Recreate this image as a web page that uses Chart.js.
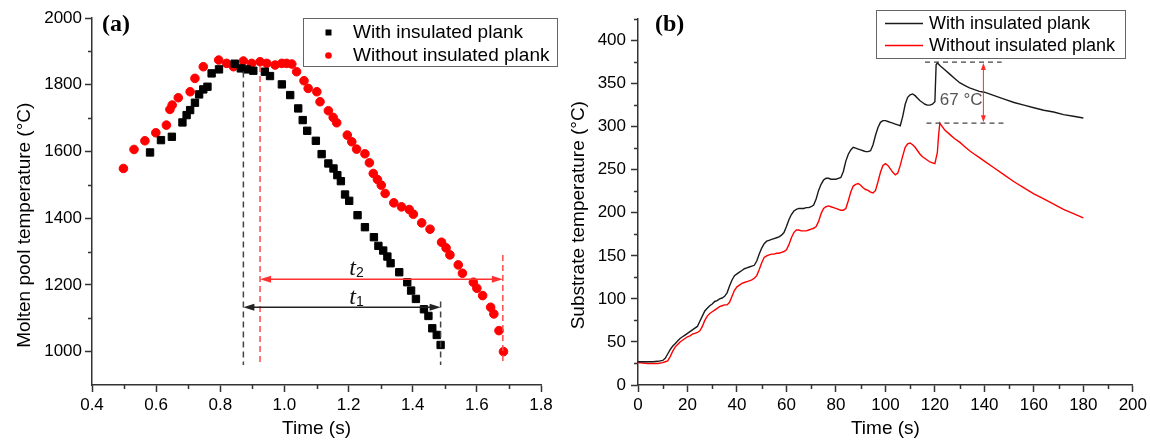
<!DOCTYPE html>
<html><head><meta charset="utf-8">
<script src="https://cdn.jsdelivr.net/npm/chart.js@4.4.1/dist/chart.umd.min.js"></script>
<style>
html,body{margin:0;padding:0;background:#fff;}
#wrap{position:relative;width:1150px;height:442px;overflow:hidden;background:#fff;}
#ca{position:absolute;left:0;top:0;}
#cb{position:absolute;left:566px;top:0;}
</style></head><body>
<div id="wrap">
<canvas id="ca" width="570" height="442"></canvas>
<canvas id="cb" width="584" height="442"></canvas>
</div>
<script>
// ---------------- Panel (a) data: molten pool temperature ----------------
const seriesNames = ['With insulated plank', 'Without insulated plank'];
const poolWithPlank = [
  [0.581,1597],[0.615,1634],[0.649,1644],[0.682,1687],[0.695,1709],[0.706,1724],[0.721,1746],
  [0.734,1771],[0.747,1786],[0.760,1794],[0.773,1834],[0.796,1846],[0.845,1863],[0.864,1849],
  [0.882,1846],[0.903,1842],[0.939,1839],[0.955,1826],[0.992,1801],[1.018,1769],[1.043,1729],
  [1.057,1694],[1.071,1662],[1.098,1632],[1.116,1592],[1.137,1564],[1.153,1549],[1.165,1529],
  [1.176,1511],[1.189,1471],[1.202,1452],[1.228,1409],[1.251,1373],[1.279,1343],[1.293,1317],
  [1.308,1303],[1.321,1285],[1.331,1265],[1.358,1238],[1.383,1208],[1.395,1183],[1.410,1158],
  [1.435,1127],[1.449,1107],[1.461,1070],[1.475,1050],[1.487,1020]
];
const poolWithoutPlank = [
  [0.498,1549],[0.531,1606],[0.565,1632],[0.599,1656],[0.632,1679],[0.643,1726],[0.650,1739],
  [0.669,1761],[0.706,1779],[0.721,1819],[0.747,1854],[0.795,1874],[0.820,1864],[0.841,1854],
  [0.872,1871],[0.898,1864],[0.924,1869],[0.945,1864],[0.971,1859],[0.992,1864],[1.007,1864],
  [1.023,1862],[1.038,1839],[1.061,1812],[1.074,1789],[1.101,1779],[1.111,1749],[1.137,1722],
  [1.152,1702],[1.163,1686],[1.196,1649],[1.210,1629],[1.225,1607],[1.251,1593],[1.265,1566],
  [1.277,1534],[1.290,1516],[1.302,1499],[1.314,1474],[1.341,1446],[1.365,1434],[1.389,1426],
  [1.402,1412],[1.428,1386],[1.454,1367],[1.490,1328],[1.504,1311],[1.516,1290],[1.542,1260],
  [1.555,1235],[1.589,1208],[1.600,1190],[1.618,1168],[1.643,1133],[1.653,1113],[1.669,1063],
  [1.683,1000]
];
const xTicksA = [0.4,0.6,0.8,1.0,1.2,1.4,1.6,1.8];
const xMinorA = [0.5,0.7,0.9,1.1,1.3,1.5,1.7];
const yTicksA = [1000,1200,1400,1600,1800,2000];
const yMinorA = [1100,1300,1500,1700,1900];
// annotation values for (a)
const t1Span = [0.872, 1.487]; const t1Level = 1133;
const t2Span = [0.924, 1.681]; const t2Level = 1217;
const dashTopA = {withStart:1840, withoutStart:1856, withEnd:1150, withoutEnd:1290};
const dashBottomA = 960;
const t1LabelAt = [1.225, 1163]; const t2LabelAt = [1.225, 1251];

// ---------------- Panel (b) data: substrate temperature ----------------
const substrateWithPlank = [
  [0,27],[2,27],[4,27],[6,27],[8,27.5],[10,28.5],[11,31],[12,36],[13,41],[14,45],[15,48],
  [16,51],[17,54],[18,56],[19,58],[20,60],[21,62],[22,64],[23,66],[24,68],[25,74],[26,80],
  [27,86],[28,89],[29,92],[30,94],[31,97],[32,98],[33,100],[34,101],[35,103],[36,107],[37,115],
  [38,122],[39,127],[40,129],[41,131],[42,133],[43,135],[44,136],[45,137],[46,138],[47,139],
  [48,144],[49,152],[50,159],[51,164],[52,167],[53,168],[54,169],[55,170],[56,171],[57,172],
  [58,174],[59,177],[60,184],[61,192],[62,198],[63,202],[64,204],[65,205],[66,205],[67,205],
  [68,206],[69,206],[70,207],[71,209],[72,216],[73,226],[74,233],[75,238],[76,240],[77,240],
  [78,239],[79,239],[80,239],[81,240],[82,241],[83,248],[84,260],[85,268],[86,273],[87,276],
  [88,275],[89,274],[90,273],[91,272],[92,271],[93,271],[94,272],[95,279],[96,290],[97,299],
  [98,305],[99,307],[100,307],[101,306],[102,305],[103,304],[104,303],[105,302],[106,301],
  [107,312],[108,326],[109,334],[110,337],[111,338],[112,336],[113,333],[114,330],[115,328],
  [116,326],[117,325],[118,325],[119,326],[120,329],[120.5,372],[121,374],[122,371],[124,366],
  [126,361],[128,356],[130,351],[132,348],[134,345],[136,343],[138,341],[140,340],[144,336],
  [148,332],[152,328],[156,325],[160,322],[164,319],[168,317],[172,314],[176,312],[180,310]
];
const substrateWithoutPlank = [
  [0,26],[2,25.5],[4,25],[6,25],[8,25],[10,26],[11,27],[12,28],[13,33],[14,39],[15,44],
  [16,47],[17,50],[18,52],[19,54],[20,56],[21,57],[22,59],[23,60],[24,61],[25,63],[26,68],
  [27,75],[28,80],[29,83],[30,85],[31,87],[32,89],[33,91],[34,92],[35,93],[36,93],[37,96],
  [38,103],[39,110],[40,114],[41,116],[42,118],[43,119],[44,120],[45,121],[46,122],[47,124],
  [48,127],[49,134],[50,142],[51,148],[52,150],[53,151],[54,152],[55,152],[56,153],[57,153],
  [58,154],[59,155],[60,157],[61,163],[62,171],[63,177],[64,180],[65,180],[66,179],[67,179],
  [68,179],[69,180],[70,181],[71,182],[72,184],[73,190],[74,199],[75,205],[76,207],[77,208],
  [78,207],[79,206],[80,205],[81,204],[82,203],[83,203],[84,205],[85,214],[86,224],[87,231],
  [88,233],[89,234],[90,232],[91,229],[92,227],[93,226],[94,224],[95,223],[96,226],[97,236],
  [98,247],[99,255],[100,257],[101,255],[102,251],[103,247],[104,244],[105,246],[106,255],
  [107,266],[108,276],[109,280],[110,281],[111,279],[112,276],[113,272],[114,268],[115,265],
  [116,263],[117,261],[118,259],[119,258],[120,257],[121,270],[121.5,290],[122,304],[123,300],
  [124,296],[126,291],[128,286],[130,282],[132,277],[134,272],[136,268],[138,264],[140,260],
  [144,252],[148,244],[152,236],[156,229],[160,222],[164,216],[168,210],[172,204],[176,199],[180,194]
];
const xTicksB = [0,20,40,60,80,100,120,140,160,180,200];
const xMinorB = [10,30,50,70,90,110,130,150,170,190];
const yTicksB = [0,50,100,150,200,250,300,350,400];
const yMinorB = [25,75,125,175,225,275,325,375,425];
// annotation values for (b)
const gapTime = 139.6; const gapUpper = 375; const gapLower = 304;
const gapLineUpper = [116, 147]; const gapLineLower = [116.6, 148];
const gapLabel = '67 °C'; const gapLabelAt = [130.6, 331];

// ---------------- styling ----------------
const SANS = '"Liberation Sans", Arial, Helvetica, sans-serif';
const SERIF = '"Liberation Serif", "Times New Roman", serif';
const AXIS = '#333';
Chart.defaults.font.family = SANS;
Chart.defaults.color = '#000';

function minorTicks(xMinor, yMinor) {
  return {
    id: 'minorTicks',
    afterDraw(chart) {
      const {ctx, chartArea, scales} = chart;
      ctx.save();
      ctx.strokeStyle = AXIS; ctx.lineWidth = 1.5;
      ctx.beginPath();
      xMinor.forEach(v => { const p = Math.round(scales.x.getPixelForValue(v)) + 0.5; ctx.moveTo(p, chartArea.bottom); ctx.lineTo(p, chartArea.bottom + 4); });
      yMinor.forEach(v => { const p = Math.round(scales.y.getPixelForValue(v)) + 0.5; ctx.moveTo(chartArea.left, p); ctx.lineTo(chartArea.left - 4, p); });
      ctx.stroke();
      ctx.restore();
    }
  };
}

function head(ctx, x, y, dir, len, half) {
  ctx.beginPath();
  if (dir === 'left') { ctx.moveTo(x, y); ctx.lineTo(x + len, y - half); ctx.lineTo(x + len, y + half); }
  if (dir === 'right') { ctx.moveTo(x, y); ctx.lineTo(x - len, y - half); ctx.lineTo(x - len, y + half); }
  if (dir === 'up') { ctx.moveTo(x, y); ctx.lineTo(x - half, y + len); ctx.lineTo(x + half, y + len); }
  if (dir === 'down') { ctx.moveTo(x, y); ctx.lineTo(x - half, y - len); ctx.lineTo(x + half, y - len); }
  ctx.closePath(); ctx.fill();
}

function vDash(ctx, x, y1, y2, color) {
  ctx.save(); ctx.strokeStyle = color; ctx.lineWidth = 1.5; ctx.setLineDash([6, 4]);
  ctx.beginPath(); ctx.moveTo(x, y1); ctx.lineTo(x, y2); ctx.stroke(); ctx.restore();
}

const annotA = {
  id: 'annotA',
  afterDatasetsDraw(chart) {
    const {ctx, scales:{x, y}} = chart;
    const X = v => x.getPixelForValue(v), Y = v => y.getPixelForValue(v);
    vDash(ctx, X(t1Span[0]), Y(dashTopA.withStart), Y(dashBottomA), '#444');
    vDash(ctx, X(t2Span[0]), Y(dashTopA.withoutStart), Y(dashBottomA), '#ff4a4a');
    vDash(ctx, X(t1Span[1]), Y(dashTopA.withEnd), Y(dashBottomA), '#444');
    vDash(ctx, X(t2Span[1]), Y(dashTopA.withoutEnd), Y(dashBottomA), '#ff4a4a');
    // t2 arrow
    ctx.save();
    ctx.strokeStyle = '#ff3030'; ctx.fillStyle = '#ff3030'; ctx.lineWidth = 1.3;
    let yy = Y(t2Level);
    ctx.beginPath(); ctx.moveTo(X(t2Span[0]) + 4, yy); ctx.lineTo(X(t2Span[1]) - 4, yy); ctx.stroke();
    head(ctx, X(t2Span[0]), yy, 'left', 11, 3.5); head(ctx, X(t2Span[1]), yy, 'right', 11, 3.5);
    // t1 arrow
    ctx.strokeStyle = '#222'; ctx.fillStyle = '#222';
    yy = Y(t1Level);
    ctx.beginPath(); ctx.moveTo(X(t1Span[0]) + 4, yy); ctx.lineTo(X(t1Span[1]) - 4, yy); ctx.stroke();
    head(ctx, X(t1Span[0]), yy, 'left', 11, 3.5); head(ctx, X(t1Span[1]), yy, 'right', 11, 3.5);
    // labels
    const lab = (main, sub, at) => {
      ctx.fillStyle = '#111'; ctx.textBaseline = 'alphabetic';
      ctx.font = 'italic 24px ' + SERIF;
      const w = ctx.measureText(main).width;
      ctx.font = '14px ' + SANS;
      const ws = ctx.measureText(sub).width;
      const x0 = X(at[0]) - (w + ws) / 2, yb = Y(at[1]) + 7;
      ctx.font = 'italic 24px ' + SERIF; ctx.fillText(main, x0, yb);
      ctx.font = '14px ' + SANS; ctx.fillText(sub, x0 + w, yb + 2);
    };
    lab('t', '2', t2LabelAt);
    lab('t', '1', t1LabelAt);
    ctx.restore();
  },
  afterDraw(chart) {
    const ctx = chart.ctx;
    ctx.save();
    // legend
    ctx.strokeStyle = '#666'; ctx.lineWidth = 1;
    ctx.strokeRect(303.5, 18.5, 254, 48);
    ctx.font = '19px ' + SANS; ctx.textBaseline = 'middle'; ctx.fillStyle = '#000';
    ctx.fillRect(325.5, 29.5, 6, 6);
    ctx.fillText(chart.data.datasets[0].label, 353, 33);
    ctx.fillStyle = '#ff0000';
    ctx.beginPath(); ctx.arc(328.5, 55.5, 3.3, 0, Math.PI * 2); ctx.fill();
    ctx.fillStyle = '#000';
    ctx.fillText(chart.data.datasets[1].label, 353, 56);
    // panel label
    ctx.font = 'bold 24px ' + SERIF; ctx.textBaseline = 'middle';
    ctx.fillText('(a)', 102, 25);
    ctx.restore();
  }
};

const annotB = {
  id: 'annotB',
  afterDatasetsDraw(chart) {
    const {ctx, scales:{x, y}} = chart;
    const X = v => x.getPixelForValue(v), Y = v => y.getPixelForValue(v);
    ctx.save();
    ctx.strokeStyle = '#444'; ctx.lineWidth = 1.2; ctx.setLineDash([5, 4]);
    ctx.beginPath();
    ctx.moveTo(X(gapLineUpper[0]), Y(gapUpper)); ctx.lineTo(X(gapLineUpper[1]), Y(gapUpper));
    ctx.moveTo(X(gapLineLower[0]), Y(gapLower)); ctx.lineTo(X(gapLineLower[1]), Y(gapLower));
    ctx.stroke();
    ctx.setLineDash([]);
    ctx.strokeStyle = '#ff2a2a'; ctx.fillStyle = '#ff2a2a'; ctx.lineWidth = 1;
    const gx = X(gapTime);
    ctx.beginPath(); ctx.moveTo(gx, Y(gapUpper) + 4); ctx.lineTo(gx, Y(gapLower) - 4); ctx.stroke();
    head(ctx, gx, Y(gapUpper) + 1, 'up', 7, 2.5);
    head(ctx, gx, Y(gapLower) - 1, 'down', 7, 2.5);
    ctx.fillStyle = '#555'; ctx.font = '17px ' + SANS; ctx.textAlign = 'center'; ctx.textBaseline = 'middle';
    ctx.fillText(gapLabel, X(gapLabelAt[0]), Y(gapLabelAt[1]));
    ctx.restore();
  },
  afterDraw(chart) {
    const ctx = chart.ctx;
    ctx.save();
    ctx.strokeStyle = '#666'; ctx.lineWidth = 1;
    ctx.strokeRect(310.5, 10.5, 249, 48);
    ctx.lineWidth = 1.4;
    ctx.strokeStyle = chart.data.datasets[0].borderColor;
    ctx.beginPath(); ctx.moveTo(319, 23.5); ctx.lineTo(357, 23.5); ctx.stroke();
    ctx.strokeStyle = chart.data.datasets[1].borderColor;
    ctx.beginPath(); ctx.moveTo(319, 45.5); ctx.lineTo(357, 45.5); ctx.stroke();
    ctx.font = '18px ' + SANS; ctx.textBaseline = 'middle'; ctx.fillStyle = '#000';
    ctx.fillText(chart.data.datasets[0].label, 363, 24);
    ctx.fillText(chart.data.datasets[1].label, 363, 46);
    ctx.font = 'bold 24px ' + SERIF;
    ctx.fillText('(b)', 89, 25);
    ctx.restore();
  }
};

function axisCommon(ticksArr, fmt, padTick) {
  return {
    type: 'linear',
    afterBuildTicks: (axis) => { axis.ticks = ticksArr.map(v => ({value: v})); },
    ticks: { callback: fmt, font: {size: 17}, color: '#000', padding: padTick, autoSkip: false, maxRotation: 0 },
    grid: { display: true, drawOnChartArea: false, drawTicks: true, tickLength: 7, color: AXIS, tickWidth: 1.5 },
    border: { display: true, color: AXIS, width: 1.5 }
  };
}

// ---------------- chart (a) ----------------
const xA = axisCommon(xTicksA, v => Number(v).toFixed(1), 3);
Object.assign(xA, { min: 0.4, max: 1.8, afterFit: s => { s.height = 57; },
  title: { display: true, text: 'Time (s)', font: {size: 19}, color: '#000', padding: {top: 0, bottom: 2} } });
const yA = axisCommon(yTicksA, v => String(v), 3);
Object.assign(yA, { min: 900, max: 2000, afterFit: s => { s.width = 92; },
  title: { display: true, text: 'Molten pool temperature (°C)' + '         ', font: {size: 19}, color: '#000', padding: {top: 13, bottom: 0} } });

new Chart(document.getElementById('ca'), {
  type: 'scatter',
  data: { datasets: [
    { label: seriesNames[0], data: poolWithPlank.map(([x, y]) => ({x, y})), pointStyle: 'rect', pointRadius: 5.2,
      backgroundColor: '#000', borderColor: '#000', borderWidth: 1 },
    { label: seriesNames[1], data: poolWithoutPlank.map(([x, y]) => ({x, y})), pointStyle: 'circle', pointRadius: 4.3,
      backgroundColor: '#ff0000', borderColor: '#ff0000', borderWidth: 1 }
  ]},
  options: {
    responsive: false, animation: false, events: [],
    layout: { padding: { left: 0, right: 29, top: 18, bottom: 0 } },
    plugins: { legend: { display: false }, tooltip: { enabled: false } },
    scales: { x: xA, y: yA }
  },
  plugins: [minorTicks(xMinorA, yMinorA), annotA]
});

// ---------------- chart (b) ----------------
const xB = axisCommon(xTicksB, v => String(v), 3);
Object.assign(xB, { min: 0, max: 200, afterFit: s => { s.height = 57; },
  title: { display: true, text: 'Time (s)', font: {size: 19}, color: '#000', padding: {top: 0, bottom: 2} } });
const yB = axisCommon(yTicksB, v => String(v), 5);
Object.assign(yB, { min: 0, max: 425, afterFit: s => { s.width = 72; },
  title: { display: true, text: 'Substrate temperature (°C)' + '     ', font: {size: 19}, color: '#000', padding: {top: 1, bottom: 0} } });

new Chart(document.getElementById('cb'), {
  type: 'line',
  data: { datasets: [
    { label: seriesNames[0], data: substrateWithPlank.map(([x, y]) => ({x, y})), borderColor: '#1a1a1a',
      borderWidth: 1.4, pointRadius: 0, tension: 0, fill: false },
    { label: seriesNames[1], data: substrateWithoutPlank.map(([x, y]) => ({x, y})), borderColor: '#ff0000',
      borderWidth: 1.4, pointRadius: 0, tension: 0, fill: false }
  ]},
  options: {
    responsive: false, animation: false, events: [],
    layout: { padding: { left: 0, right: 17, top: 19, bottom: 0 } },
    plugins: { legend: { display: false }, tooltip: { enabled: false } },
    scales: { x: xB, y: yB }
  },
  plugins: [minorTicks(xMinorB, yMinorB), annotB]
});
</script>
</body></html>
